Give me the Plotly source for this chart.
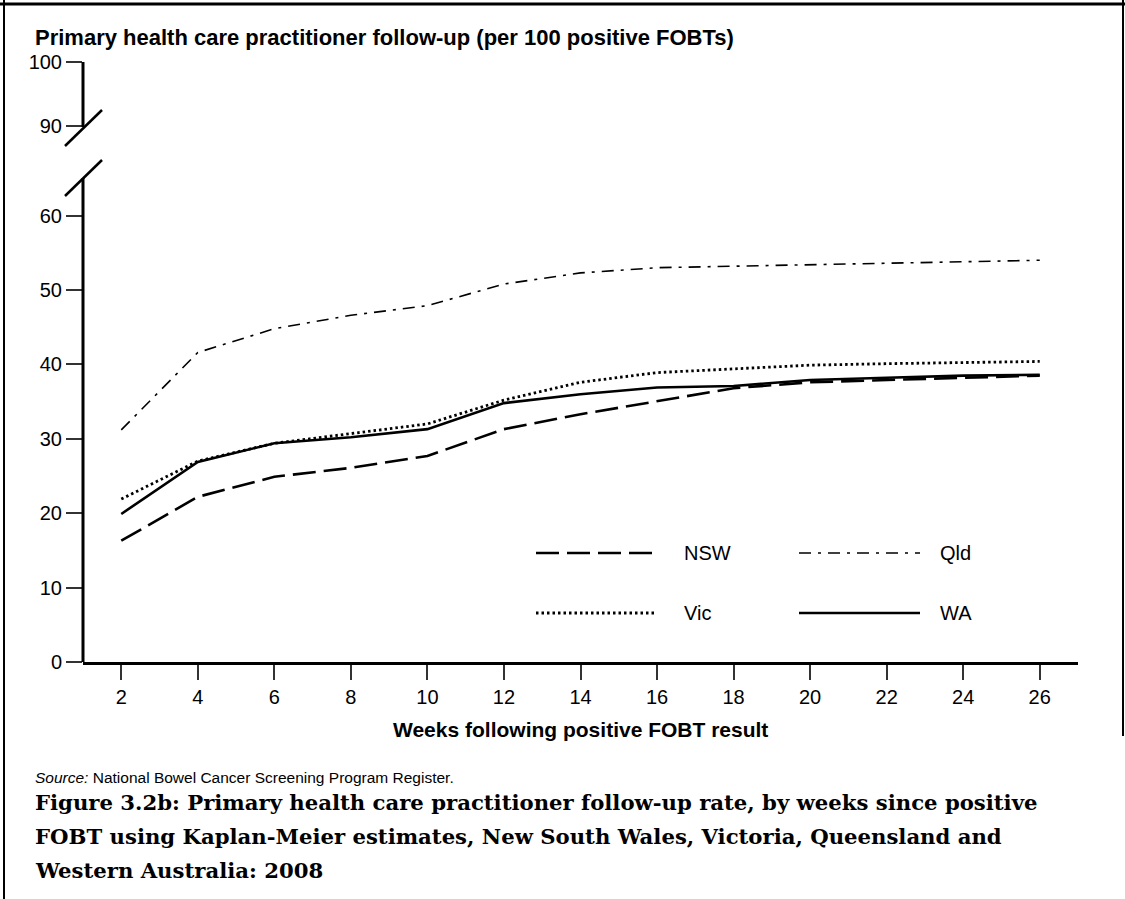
import plotly.graph_objects as go

weeks = [2, 4, 6, 8, 10, 12, 14, 16, 18, 20, 22, 24, 26]
nsw = [16.3, 22.2, 24.9, 26.1, 27.7, 31.3, 33.3, 35.1, 36.8, 37.6, 37.9, 38.2, 38.5]
qld = [31.2, 41.6, 44.8, 46.6, 47.9, 50.8, 52.3, 53.0, 53.2, 53.4, 53.7, 53.9, 54.0]
vic = [21.9, 27.0, 29.4, 30.7, 32.0, 35.2, 37.6, 38.9, 39.4, 39.9, 40.1, 40.3, 40.4]
wa = [19.9, 26.9, 29.4, 30.2, 31.3, 34.8, 36.0, 36.9, 37.1, 37.9, 38.2, 38.5, 38.6]

series_names = ["NSW", "Qld", "Vic", "WA"]
y_tick_vals = [0, 10, 20, 30, 40, 50, 60]
x_tick_vals = [2, 4, 6, 8, 10, 12, 14, 16, 18, 20, 22, 24, 26]

# broken-axis label positions (axis compressed above 60)
Y_TOP = 80.65
BREAK_LABEL_POS = [72.04, 80.65]
BREAK_LABEL_TEXT = ["90", "100"]

styles = {
    "NSW": dict(color="black", width=2.6, dash="23px,8px"),
    "Qld": dict(color="black", width=1.6, dash="12px,7px,3px,7px"),
    "Vic": dict(color="black", width=2.8, dash="2.5px,3px"),
    "WA": dict(color="black", width=2.6, dash="solid"),
}
data = {"NSW": nsw, "Qld": qld, "Vic": vic, "WA": wa}

fig = go.Figure()
for name in series_names:
    fig.add_trace(go.Scatter(x=weeks, y=data[name], mode="lines", name=name,
                             line=styles[name], showlegend=False, hoverinfo="skip"))

W, H = 1125, 899
L, R, T, B = 83, 47, 62, 237
pw, ph = W - L - R, H - T - B

def px(x):
    return (x - L) / pw

def py(y):
    return (H - B - y) / ph

def yval(pix):
    return (H - B - pix) / ph * Y_TOP

shapes = []
# y axis line with break
shapes.append(dict(type="line", xref="paper", yref="y", x0=0, x1=0, y0=0, y1=yval(178),
                   line=dict(color="black", width=3)))
shapes.append(dict(type="line", xref="paper", yref="y", x0=0, x1=0, y0=yval(127), y1=Y_TOP,
                   line=dict(color="black", width=3)))
for (a, b) in [(146, 110), (196, 160)]:
    shapes.append(dict(type="line", xref="paper", yref="paper", x0=px(65), x1=px(102),
                       y0=py(a), y1=py(b), line=dict(color="black", width=2.5)))

# frame
shapes.append(dict(type="line", xref="paper", yref="paper", x0=px(0), x1=px(W), y0=py(4), y1=py(4),
                   line=dict(color="black", width=3)))
shapes.append(dict(type="line", xref="paper", yref="paper", x0=px(4), x1=px(4), y0=py(0), y1=py(H),
                   line=dict(color="black", width=2)))
shapes.append(dict(type="line", xref="paper", yref="paper", x0=px(1123), x1=px(1123), y0=py(0), y1=py(736),
                   line=dict(color="black", width=2)))

annotations = []
# legend (manual, 2 columns)
leg_pos = {"NSW": (536, 655, 682, 553), "Qld": (799, 920, 938, 553),
           "Vic": (536, 657, 682, 613), "WA": (799, 920, 938, 613)}
for name in series_names:
    x0, x1, xl, yy = leg_pos[name]
    shapes.append(dict(type="line", xref="paper", yref="paper", x0=px(x0), x1=px(x1),
                       y0=py(yy), y1=py(yy), line=styles[name]))
    annotations.append(dict(text=name, xref="paper", yref="paper", x=px(xl), y=py(yy),
                            xanchor="left", yanchor="middle", showarrow=False,
                            font=dict(size=20, color="black", family="Liberation Sans")))

annotations.append(dict(text="<b>Primary health care practitioner follow-up (per 100 positive FOBTs)</b>",
                        xref="paper", yref="paper", x=px(33), y=py(38), xanchor="left", yanchor="middle",
                        showarrow=False, font=dict(size=22, color="black", family="Liberation Sans")))
annotations.append(dict(text="<b>Weeks following positive FOBT result</b>",
                        xref="paper", yref="paper", x=px(580), y=py(729), xanchor="center", yanchor="middle",
                        showarrow=False, font=dict(size=21, color="black", family="Liberation Sans")))
annotations.append(dict(text="<i>Source:</i> National Bowel Cancer Screening Program Register.",
                        xref="paper", yref="paper", x=px(33), y=py(777), xanchor="left", yanchor="middle",
                        showarrow=False, font=dict(size=15.5, color="black", family="Liberation Sans")))
caption = ["Figure 3.2b: Primary health care practitioner follow-up rate, by weeks since positive",
           "FOBT using Kaplan-Meier estimates, New South Wales, Victoria, Queensland and",
           "Western Australia: 2008"]
for i, line in enumerate(caption):
    annotations.append(dict(text="<b>" + line + "</b>", xref="paper", yref="paper", x=px(33),
                            y=py(802 + 34 * i), xanchor="left", yanchor="middle", showarrow=False,
                            font=dict(size=21.2, color="black", family="DejaVu Serif")))

fig.update_layout(
    width=W, height=H,
    margin=dict(l=L, r=R, t=T, b=B, pad=0),
    paper_bgcolor="white", plot_bgcolor="white",
    shapes=shapes, annotations=annotations,
    font=dict(family="Liberation Sans", color="black", size=20),
    xaxis=dict(range=[1, 27], tickvals=x_tick_vals, ticks="outside", ticklen=15, tickwidth=1.5,
               tickcolor="#333", showline=True, linewidth=3, linecolor="black", showgrid=False,
               zeroline=False, tickfont=dict(size=20)),
    yaxis=dict(range=[0, Y_TOP], tickvals=y_tick_vals + BREAK_LABEL_POS,
               ticktext=[str(v) for v in y_tick_vals] + BREAK_LABEL_TEXT,
               ticks="outside", ticklen=16, tickwidth=1.5, tickcolor="#333",
               showline=False, showgrid=False, zeroline=False, tickfont=dict(size=20)),
)

fig.write_html("out.html", config={"displayModeBar": False},
               post_script="document.body.style.margin='0';document.body.style.overflow='hidden';")
